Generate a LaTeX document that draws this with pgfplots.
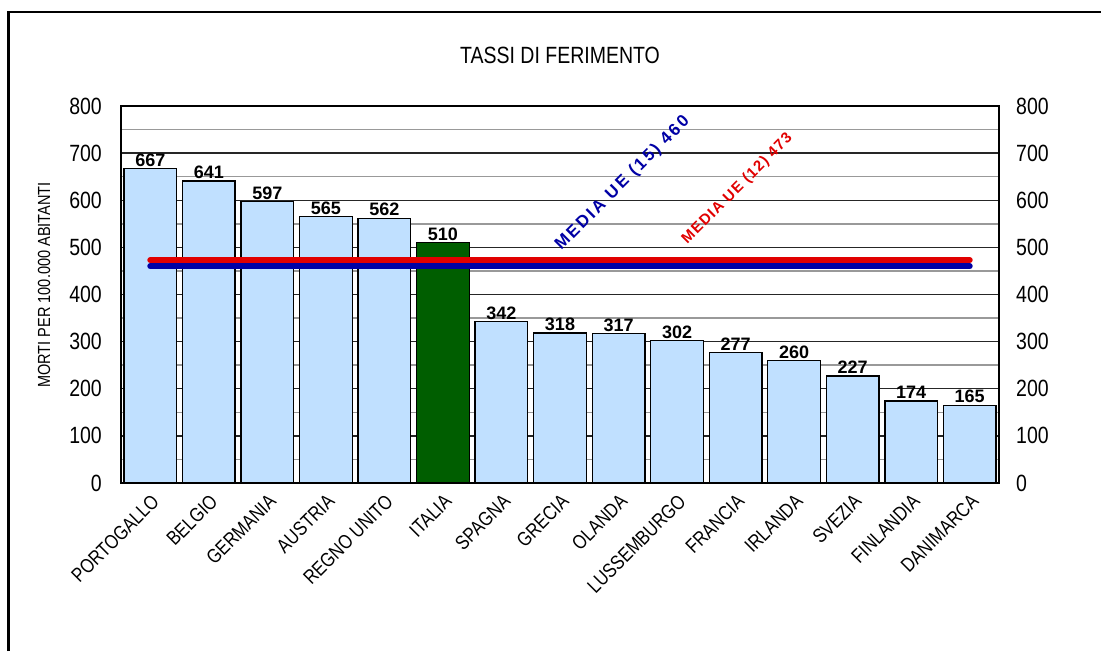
\documentclass[border=0pt]{standalone}
\usepackage{fontspec}
\setmainfont[FakeStretch=0.83]{Liberation Sans}
\newfontfamily\valfont{Liberation Sans}
\newfontfamily\medfontA[LetterSpace=14]{Liberation Sans}
\newfontfamily\medfontB[LetterSpace=8]{Liberation Sans}
\usepackage{pgfplots}
\pgfplotsset{compat=1.18}
\definecolor{barblue}{RGB}{192,224,255}
\definecolor{bargreen}{RGB}{0,94,0}
\definecolor{lineblue}{RGB}{0,0,165}
\definecolor{linered}{RGB}{225,0,0}
\begin{document}
\begin{tikzpicture}
\path[use as bounding box] (0pt,0pt) rectangle (1101pt,651pt);
\draw[line width=2.2pt] (8.5pt,0pt) -- (8.5pt,639pt) -- (1101pt,639pt);
\node[font=\fontsize{23.5}{26}\selectfont] at (560pt,596pt) {TASSI DI FERIMENTO};
\node[font=\fontsize{17.5}{20}\selectfont, rotate=90] at (44pt,366pt) {MORTI PER 100.000 ABITANTI};
\begin{axis}[
  at={(121pt,168pt)}, anchor=south west,
  scale only axis, width=878pt, height=377pt,
  xmin=-0.5, xmax=14.5, ymin=0, ymax=800,
  ybar, bar width=0.9, bar shift=0pt,
  /pgf/number format/assume math mode=true,
  xtick={0,...,14},
  xticklabels={PORTOGALLO,BELGIO,GERMANIA,AUSTRIA,REGNO UNITO,ITALIA,SPAGNA,GRECIA,OLANDA,LUSSEMBURGO,FRANCIA,IRLANDA,SVEZIA,FINLANDIA,DANIMARCA},
  xticklabel style={xshift=0pt, yshift=-10pt, rotate=45, anchor=north east, inner sep=0pt, font=\fontsize{20}{22}\selectfont},
  ytick={0,100,...,800},
  minor ytick={50,150,...,750},
  yticklabel style={inner sep=0pt, xshift=-19pt, font=\fontsize{23.5}{24}\selectfont},
  major tick length=0pt, minor tick length=0pt,
  ymajorgrids, yminorgrids,
  major grid style={draw=black!85, line width=1.4pt},
  minor grid style={draw=black!40, line width=1.4pt},
  axis line style={line width=1.8pt},
  nodes near coords,
  every node near coord/.append style={font=\valfont\bfseries\fontsize{18}{18}\selectfont, anchor=south, inner sep=1.5pt, text=black},
]
\addplot[fill=barblue, draw=black, line width=1.3pt] coordinates {
(0,667) (1,641) (2,597) (3,565) (4,562) (6,342) (7,318) (8,317) (9,302) (10,277) (11,260) (12,227) (13,174) (14,165)};
\addplot[fill=bargreen, draw=black, line width=1.3pt] coordinates {(5,510)};
\addplot[sharp plot, draw=lineblue, line width=6pt, line cap=round, nodes near coords={}] coordinates {(0,460) (14,460)};
\addplot[sharp plot, draw=linered, line width=6pt, line cap=round, nodes near coords={}] coordinates {(0,473) (14,473)};
\node[rotate=45, text=lineblue, font=\medfontA\bfseries\fontsize{17}{17}\selectfont] at (axis cs:8.07,636) {MEDIA UE (15) 460};
\node[rotate=45, text=linered, font=\medfontB\bfseries\fontsize{15}{15}\selectfont] at (axis cs:10.03,624) {MEDIA UE (12) 473};
\end{axis}
\begin{axis}[
  at={(121pt,168pt)}, anchor=south west,
  scale only axis, width=878pt, height=377pt,
  xmin=-0.5, xmax=14.5, ymin=0, ymax=800,
  axis y line*=right, axis x line=none,
  /pgf/number format/assume math mode=true,
  ytick={0,100,...,800},
  yticklabel style={inner sep=0pt, xshift=17pt, font=\fontsize{23.5}{24}\selectfont},
  major tick length=0pt,
  axis line style={line width=1.8pt},
]
\addplot[draw=none] coordinates {(0,0)};
\end{axis}
\end{tikzpicture}
\end{document}
